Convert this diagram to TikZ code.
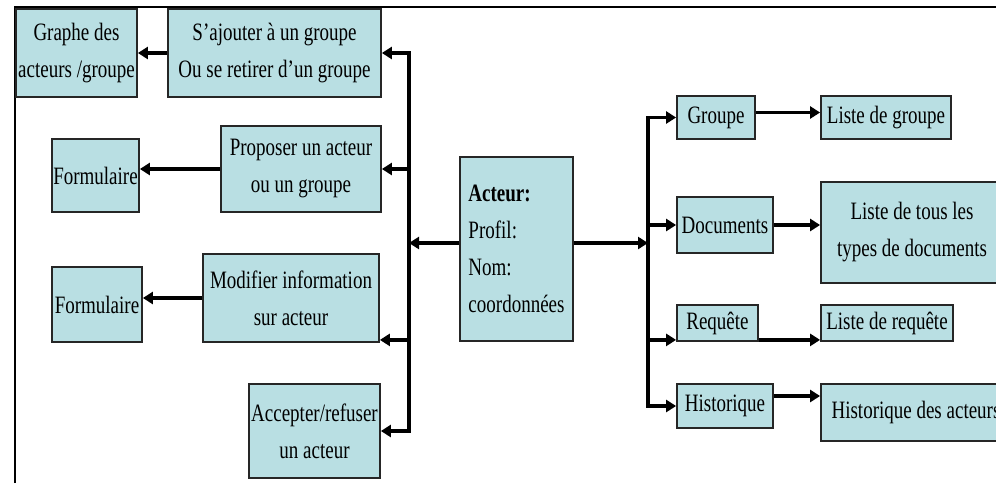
\documentclass[tikz,border=0pt]{standalone}
\usepackage{fontspec}
\setmainfont{Liberation Serif}[FakeStretch=0.76]
\usepackage{tikz}
\usetikzlibrary{calc}
\usetikzlibrary{arrows.meta}
\definecolor{boxfill}{RGB}{185,223,227}

\begin{document}
\begin{tikzpicture}[x=1pt, y=-1pt,
        box/.style={draw=black!85, line width=1.8pt, fill=boxfill, inner sep=0pt,
            align=center, font=\fontsize{25}{37}\selectfont},
        arr/.style={line width=3.5pt, -{Triangle[length=10pt,width=12pt]}},
        bus/.style={line width=3.5pt, line cap=rect}]
                \useasboundingbox (0,0) rectangle (996,483);
                \clip (0,0) rectangle (996,483);
                \draw[line width=2.5pt] (15,483) -- (15,7) -- (996,7);

                \node[box, minimum width=121pt, minimum height=88pt] (graphe) at (76.5,53) {Graphe des\\acteurs /groupe};
                \node[box, minimum width=213pt, minimum height=88pt] (ajout) at (274.5,53) {S’ajouter à un groupe\\Ou se retirer d’un groupe};
                \node[box, minimum width=160pt, minimum height=86pt] (propose) at (301,169) {Proposer un acteur\\ou un groupe};
                \node[box, minimum width=87pt, minimum height=73pt] (formA) at (95.5,175.5) {Formulaire};
                \node[box, minimum width=176pt, minimum height=88pt] (modif) at (291,298) {Modifier information\\sur acteur};
                \node[box, minimum width=90pt, minimum height=75pt] (formB) at (97,304.5) {Formulaire};
                \node[box, minimum width=131pt, minimum height=94pt] (accept) at (314.5,431) {Accepter/refuser\\un acteur};

                \node[box, align=left, minimum width=113pt, minimum height=184pt] (acteur) at (516.5,249) {\textbf{Acteur:}\\Profil:\\Nom:\\coordonnées};

                \node[box, minimum width=78pt, minimum height=43pt] (grp) at (716,117.5) {Groupe};
                \node[box, minimum width=130pt, minimum height=43pt] (lgrp) at (886,117.5) {Liste de groupe};
                \node[box, minimum width=96pt, minimum height=56pt] (docs) at (725,225) {Documents};
                \node[box, minimum width=182pt, minimum height=101pt] (ltypes) at (912,232.5) {Liste de tous les\\types de documents};
                \node[box, minimum width=81pt, minimum height=36pt] (req) at (717.5,323) {Requête};
                \node[box, minimum width=132pt, minimum height=36pt] (lreq) at (887,323) {Liste de requête};
                \node[box, minimum width=96pt, minimum height=44pt] (hist) at (725,406) {Historique};
                \node[box, minimum width=190pt, minimum height=57pt] (hact) at (916,412.5) {Historique des acteurs};

                \coordinate (lbus) at (409,0);
                \coordinate (rbus) at (648,0);
                \path ([yshift=3pt]modif.south east) coordinate (modin);
                \path ([yshift=6pt]acteur.west) coordinate (actw);
                \path ([yshift=6pt]acteur.east) coordinate (acte);
                \path ([yshift=5pt]grp.east) coordinate (grpout);
                \path ([yshift=2pt]req.south west) coordinate (reqin);
                \path ([yshift=2pt]req.south east) coordinate (reqout);
                \path ([yshift=10pt]hist.east) coordinate (histout);

                \draw[bus] (ajout.east -| lbus) -- (accept.east -| lbus);
                \draw[arr] (actw) -- (actw -| lbus);
                \draw[arr] (ajout.east -| lbus) -- (ajout.east);
                \draw[arr] (propose.east -| lbus) -- (propose.east);
                \draw[arr] (modin -| lbus) -- (modin);
                \draw[arr] (accept.east -| lbus) -- (accept.east);
                \draw[arr] (ajout) -- (graphe);
                \draw[arr] (propose.west) -- (propose.west -| formA.east);
                \draw[arr] (modif.west) -- (modif.west -| formB.east);

                \draw[bus] (grp.west -| rbus) -- (hist.west -| rbus);
                \draw[arr] (acte) -- (acte -| rbus);
                \draw[arr] (grp.west -| rbus) -- (grp.west);
                \draw[arr] (docs.west -| rbus) -- (docs.west);
                \draw[arr] (reqin -| rbus) -- (reqin);
                \draw[arr] (hist.west -| rbus) -- (hist.west);
                \draw[arr] (grpout) -- (grpout -| lgrp.west);
                \draw[arr] (docs.east) -- (docs.east -| ltypes.west);
                \draw[arr] (reqout) -- (reqout -| lreq.west);
                \draw[arr] (histout) -- (histout -| hact.west);
            \end{tikzpicture}
\end{document}
